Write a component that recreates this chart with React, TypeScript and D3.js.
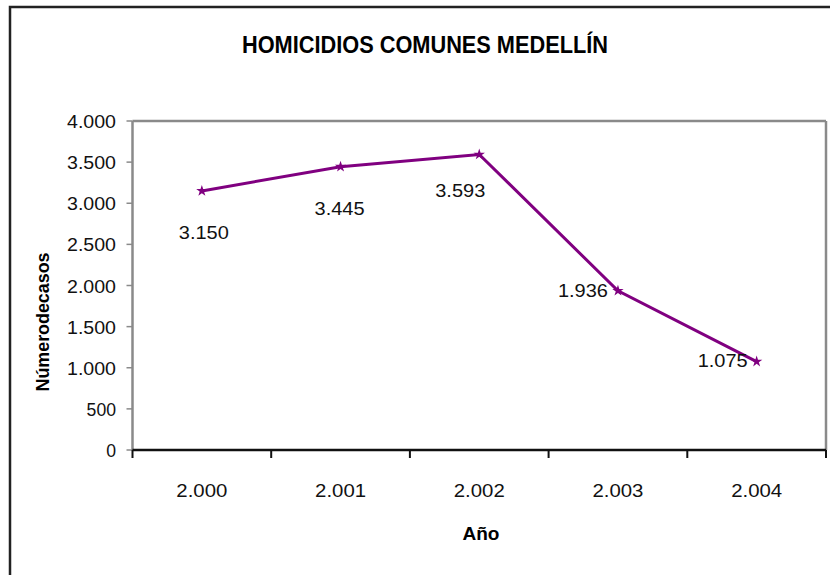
import React from "react";
import * as d3 from "d3";

const years = ["2.000", "2.001", "2.002", "2.003", "2.004"];
const homicides = [3150, 3445, 3593, 1936, 1075];
const valueLabels = ["3.150", "3.445", "3.593", "1.936", "1.075"];
const yTicks = [0, 500, 1000, 1500, 2000, 2500, 3000, 3500, 4000];
const yTickLabels = ["0", "500", "1.000", "1.500", "2.000", "2.500", "3.000", "3.500", "4.000"];

const W = 830;
const H = 575;
const plot = { left: 132.5, right: 826, top: 121, bottom: 450 };
const FONT = "'Liberation Sans', Arial, sans-serif";

export default function App() {
  const x = d3.scaleBand<string>().domain(years).range([plot.left, plot.right]);
  const y = d3.scaleLinear().domain([0, 4000]).range([plot.bottom, plot.top]);
  const cx = (i: number) => (x(years[i]) as number) + x.bandwidth() / 2;
  const line = d3
    .line<number>()
    .x((_, i) => cx(i))
    .y((d) => y(d));
  const marker = d3.symbol().type(d3.symbolStar).size(40)() as string;

  // label placement relative to point: [dx, dy, anchor]
  const labelPlace: [number, number, string][] = [
    [2, 48, "middle"],
    [-1, 48, "middle"],
    [-19, 43, "middle"],
    [-10, 6, "end"],
    [-9, 5, "end"],
  ];

  return (
    <svg
      width={W}
      height={H}
      style={{ position: "absolute", left: 0, top: 0, background: "#fff" }}
      fontFamily={FONT}
    >
      <rect x={0} y={0} width={W} height={H} fill="#fff" />
      {/* outer chart border */}
      <rect x={10} y={7} width={W + 20} height={H + 20} fill="none" stroke="#222" strokeWidth={2.5} />

      {/* title */}
      <text
        x={425}
        y={53}
        textAnchor="middle"
        fontSize={24}
        fontWeight="bold"
        fill="#000"
        textLength={366}
        lengthAdjust="spacingAndGlyphs"
      >
        HOMICIDIOS COMUNES MEDELLÍN
      </text>

      {/* plot frame */}
      <line x1={plot.left} x2={plot.right} y1={plot.top} y2={plot.top} stroke="#8a8a8a" strokeWidth={2.5} />
      <line x1={plot.right} x2={plot.right} y1={plot.top} y2={plot.bottom} stroke="#8a8a8a" strokeWidth={2.5} />
      <line x1={plot.left} x2={plot.left} y1={plot.top} y2={plot.bottom} stroke="#8a8a8a" strokeWidth={2.5} />

      {/* y ticks */}
      {yTicks.map((t, i) => (
        <g key={t}>
          <line x1={plot.left - 6} x2={plot.left} y1={y(t)} y2={y(t)} stroke="#8a8a8a" strokeWidth={1.5} />
          <text
            x={116}
            y={y(t) + 7}
            textAnchor="end"
            fontSize={18}
            fill="#111"
            textLength={yTickLabels[i].length * 9.8}
            lengthAdjust="spacingAndGlyphs"
          >
            {yTickLabels[i]}
          </text>
        </g>
      ))}

      {/* x axis */}
      <line x1={plot.left} x2={plot.right} y1={plot.bottom} y2={plot.bottom} stroke="#111" strokeWidth={2.5} />
      {[...years.map((yr) => x(yr) as number), plot.right].map((px, i) => (
        <line key={i} x1={px} x2={px} y1={plot.bottom} y2={plot.bottom + 8} stroke="#111" strokeWidth={2} />
      ))}
      {years.map((yr, i) => (
        <text
          key={yr}
          x={cx(i)}
          y={497}
          textAnchor="middle"
          fontSize={18}
          fill="#111"
          textLength={51}
          lengthAdjust="spacingAndGlyphs"
        >
          {yr}
        </text>
      ))}

      {/* axis titles */}
      <text
        x={481}
        y={540}
        textAnchor="middle"
        fontSize={19}
        fontWeight="bold"
        fill="#000"
        textLength={37}
        lengthAdjust="spacingAndGlyphs"
      >
        Año
      </text>
      <text
        transform={`translate(49, 322) rotate(-90)`}
        textAnchor="middle"
        fontSize={19}
        fontWeight="bold"
        fill="#000"
        textLength={139}
        lengthAdjust="spacingAndGlyphs"
      >
        Númerodecasos
      </text>

      {/* series */}
      <path d={line(homicides) as string} fill="none" stroke="#800080" strokeWidth={3} />
      {homicides.map((v, i) => (
        <path key={i} d={marker} transform={`translate(${cx(i)},${y(v)})`} fill="#800080" />
      ))}
      {homicides.map((v, i) => {
        const [dx, dy, anchor] = labelPlace[i];
        return (
          <text
            key={i}
            x={cx(i) + dx}
            y={y(v) + dy}
            textAnchor={anchor as any}
            fontSize={18}
            fill="#111"
            textLength={50}
            lengthAdjust="spacingAndGlyphs"
          >
            {valueLabels[i]}
          </text>
        );
      })}
    </svg>
  );
}
